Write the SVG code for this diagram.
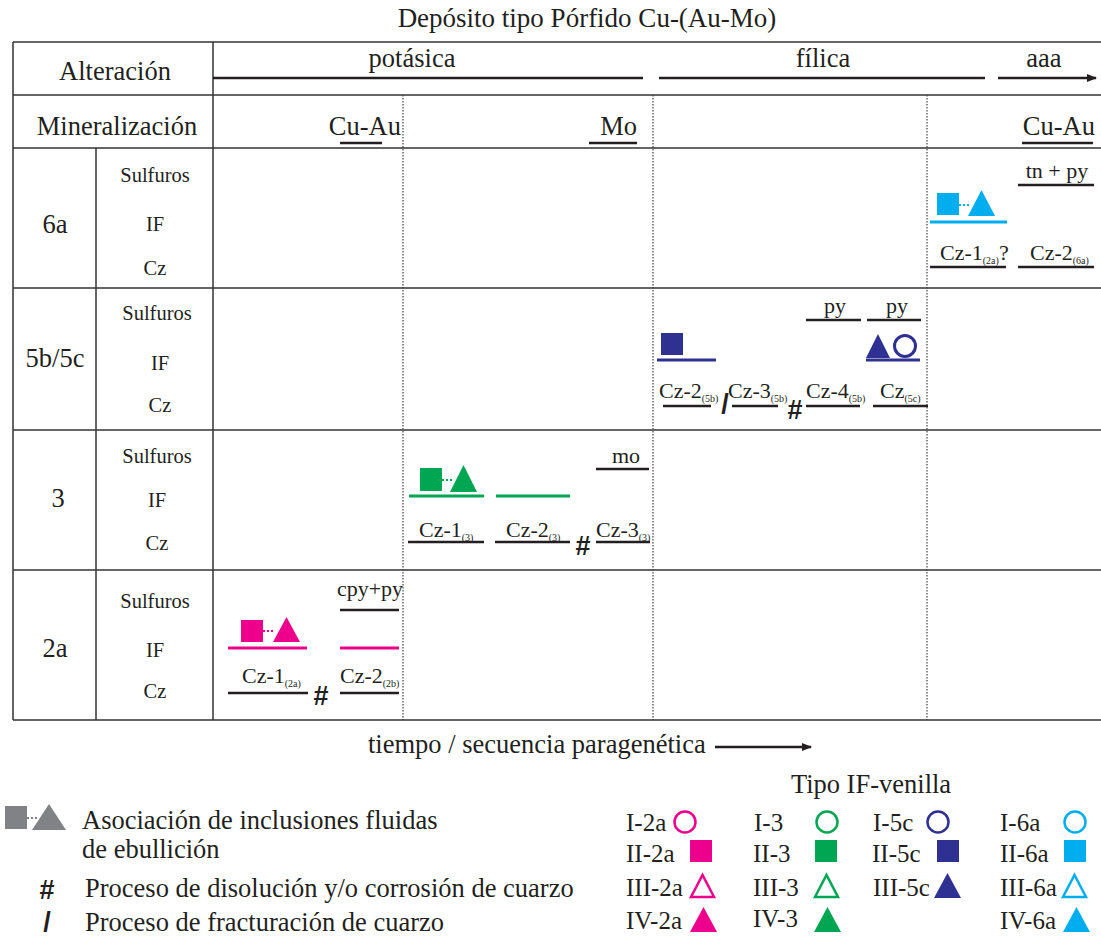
<svg xmlns="http://www.w3.org/2000/svg" width="1101" height="937" viewBox="0 0 1101 937">
<style>
text{font-family:"Liberation Serif","Times New Roman",serif;fill:#231f20}
.t26{font-size:27px}
.t25{font-size:26.5px}
.lg{font-size:25px}
.t20{font-size:20.5px}
.t22{font-size:22px}
.sub{font-size:10px}
.sym{font-family:"Liberation Sans",Arial,sans-serif;font-weight:bold;font-size:27px}
.grid{stroke:#333;stroke-width:1.5;fill:none}
.dot{stroke:#444;stroke-width:1.2;stroke-dasharray:1.5 1.5;fill:none}
.bl{stroke:#231f20;stroke-width:2.5;fill:none}
.mg{fill:#ec008c}.gr{fill:#00a651}.nv{fill:#2e3192}.cy{fill:#00aeef}.gy{fill:#808285}
</style>
<defs>
<marker id="ah" markerWidth="10" markerHeight="8" refX="9" refY="4" orient="auto" markerUnits="userSpaceOnUse">
<path d="M0,0 L10,4 L0,8 Z" fill="#231f20"/>
</marker>
</defs>
<text class="t26" x="587" y="27" text-anchor="middle">Depósito tipo Pórfido Cu-(Au-Mo)</text>
<g id="table">
<path class="grid" d="M13,42H1101M13,95H1101M13,148H1101M13,288H1101M13,430H1101M13,570H1101M13,720H1101M13,42V720M213,42V720M96,148V720"/>
<path class="dot" d="M403,95V720M653,95V720M927,95V720"/>
</g>
<g id="header">
<text class="t25" x="115" y="80" text-anchor="middle">Alteración</text>
<text class="t25" x="117" y="135" text-anchor="middle">Mineralización</text>
<text class="t25" x="412" y="67" text-anchor="middle">potásica</text>
<text class="t25" x="823" y="67" text-anchor="middle">fílica</text>
<text class="t25" x="1044" y="67" text-anchor="middle">aaa</text>
<text class="t25" x="401" y="135" text-anchor="end">Cu-Au</text>
<text class="t25" x="637" y="135" text-anchor="end">Mo</text>
<text class="t25" x="1095" y="135" text-anchor="end">Cu-Au</text>
</g>
<g id="connectors">
<path class="bl" d="M213,78H643M659,78H985"/>
<path class="bl" d="M998,78H1096" stroke-width="2" marker-end="url(#ah)"/>
<path class="bl" d="M340,143H382M589,143H637M1022,143H1093"/>
<path class="bl" d="M715,747H811" stroke-width="2" marker-end="url(#ah)"/>
</g>
<g id="row-6a">
<text class="t25" x="55" y="233" text-anchor="middle">6a</text>
<text class="t20" x="155" y="182" text-anchor="middle">Sulfuros</text>
<text class="t20" x="155" y="231" text-anchor="middle">IF</text>
<text class="t20" x="155" y="275" text-anchor="middle">Cz</text>
<rect class="cy" x="937" y="193" width="22" height="22"/>
<path d="M959,205H970" stroke="#00aeef" stroke-width="2" stroke-dasharray="2 2"/>
<path class="cy" d="M968,216L981.5,190L995,216Z"/>
<path d="M930,222H1007" stroke="#00aeef" stroke-width="3"/>
<text class="t22" x="1057" y="178" text-anchor="middle">tn + py</text>
<path class="bl" d="M1018,185H1094"/>
<text class="t22" x="940" y="260">Cz-1<tspan class="sub" dy="4">(2a)</tspan><tspan dy="-4">?</tspan></text>
<text class="t22" x="1030" y="260">Cz-2<tspan class="sub" dy="4">(6a)</tspan></text>
<path class="bl" d="M930,267H1006M1018,267H1094"/>
</g>
<g id="row-5b5c">
<text class="t25" x="55" y="367" text-anchor="middle">5b/5c</text>
<text class="t20" x="157" y="320" text-anchor="middle">Sulfuros</text>
<text class="t20" x="160" y="370" text-anchor="middle">IF</text>
<text class="t20" x="160" y="412" text-anchor="middle">Cz</text>
<text class="t22" x="835" y="313" text-anchor="middle">py</text>
<text class="t22" x="897" y="313" text-anchor="middle">py</text>
<path class="bl" d="M806,320H861M867,320H921"/>
<rect class="nv" x="661" y="333" width="22" height="22"/>
<path d="M657,360H716M866,360H920" stroke="#2e3192" stroke-width="3"/>
<path class="nv" d="M866,358L878,334L890,358Z"/>
<circle cx="905" cy="346" r="10.5" fill="none" stroke="#2e3192" stroke-width="3"/>
<text class="t22" x="659" y="398">Cz-2<tspan class="sub" dy="4">(5b)</tspan></text>
<text class="t22" x="728" y="398">Cz-3<tspan class="sub" dy="4">(5b)</tspan></text>
<text class="t22" x="806" y="398">Cz-4<tspan class="sub" dy="4">(5b)</tspan></text>
<text class="t22" x="880" y="398">Cz<tspan class="sub" dy="4">(5c)</tspan></text>
<path class="bl" d="M663,406H711M732,406H778M806,406H860M873,406H928"/>
<text class="sym" x="725" y="413" text-anchor="middle" font-size="16">/</text>
<text class="sym" x="795" y="419" text-anchor="middle" font-size="25">#</text>
</g>
<g id="row-3">
<text class="t25" x="58" y="507" text-anchor="middle">3</text>
<text class="t20" x="157" y="463" text-anchor="middle">Sulfuros</text>
<text class="t20" x="157" y="507" text-anchor="middle">IF</text>
<text class="t20" x="157" y="550" text-anchor="middle">Cz</text>
<rect class="gr" x="420" y="468" width="22" height="23"/>
<path d="M442,480H452" stroke="#00a651" stroke-width="2" stroke-dasharray="2 2"/>
<path class="gr" d="M450,492L463.5,465L477,492Z"/>
<path d="M409,496H484M496,496H570" stroke="#00a651" stroke-width="3"/>
<text class="t22" x="626" y="463" text-anchor="middle">mo</text>
<path class="bl" d="M596,469H649"/>
<text class="t22" x="419" y="537">Cz-1<tspan class="sub" dy="4">(3)</tspan></text>
<text class="t22" x="506" y="537">Cz-2<tspan class="sub" dy="4">(3)</tspan></text>
<text class="t22" x="596" y="537">Cz-3<tspan class="sub" dy="4">(3)</tspan></text>
<path class="bl" d="M408,542H484M495,542H570M596,542H650"/>
<text class="sym" x="583" y="555" text-anchor="middle">#</text>
</g>
<g id="row-2a">
<text class="t25" x="55" y="657" text-anchor="middle">2a</text>
<text class="t20" x="155" y="608" text-anchor="middle">Sulfuros</text>
<text class="t20" x="155" y="657" text-anchor="middle">IF</text>
<text class="t20" x="155" y="698" text-anchor="middle">Cz</text>
<rect class="mg" x="241" y="620" width="22" height="22"/>
<path d="M263,631H275" stroke="#ec008c" stroke-width="2" stroke-dasharray="2 2"/>
<path class="mg" d="M273,642L286.5,617L300,642Z"/>
<path d="M228,648H307M340,648H399" stroke="#ec008c" stroke-width="3"/>
<text class="t22" x="370" y="596" text-anchor="middle">cpy+py</text>
<path class="bl" d="M340,610H399"/>
<text class="t22" x="242" y="683">Cz-1<tspan class="sub" dy="4">(2a)</tspan></text>
<text class="t22" x="340" y="683">Cz-2<tspan class="sub" dy="4">(2b)</tspan></text>
<path class="bl" d="M228,693H308M340,693H399"/>
<text class="sym" x="321" y="705" text-anchor="middle">#</text>
</g>
<text class="t25" x="368" y="753">tiempo / secuencia paragenética</text>
<g id="legend-symbols">
<rect class="gy" x="5" y="806" width="22" height="23"/>
<path d="M27,818H38" stroke="#808285" stroke-width="2" stroke-dasharray="2 2"/>
<path class="gy" d="M32,830L49,804L66,830Z"/>
<text class="t25" x="82" y="829">Asociación de inclusiones fluidas</text>
<text class="t25" x="82" y="858">de ebullición</text>
<text class="sym" x="47" y="899" text-anchor="middle">#</text>
<text class="t25" x="85" y="897">Proceso de disolución y/o corrosión de cuarzo</text>
<text class="sym" x="47" y="931" text-anchor="middle" font-size="16">/</text>
<text class="t25" x="85" y="931">Proceso de fracturación de cuarzo</text>
</g>
<g id="legend-tipo">
<text class="t25" x="871" y="793" text-anchor="middle">Tipo IF-venilla</text>
<text class="lg" x="626" y="831">I-2a</text>
<text class="lg" x="754" y="831">I-3</text>
<text class="lg" x="873" y="831">I-5c</text>
<text class="lg" x="1000" y="831">I-6a</text>
<circle cx="685" cy="822" r="10.5" fill="none" stroke="#ec008c" stroke-width="2.5"/>
<circle cx="827" cy="822" r="10.5" fill="none" stroke="#00a651" stroke-width="2.5"/>
<circle cx="938" cy="822" r="10.5" fill="none" stroke="#2e3192" stroke-width="2.5"/>
<circle cx="1075" cy="822" r="10.5" fill="none" stroke="#00aeef" stroke-width="2.5"/>
<text class="lg" x="626" y="862">II-2a</text>
<text class="lg" x="753" y="862">II-3</text>
<text class="lg" x="872" y="862">II-5c</text>
<text class="lg" x="1000" y="862">II-6a</text>
<rect class="mg" x="690" y="840" width="22" height="22"/>
<rect class="gr" x="815" y="840" width="22" height="22"/>
<rect class="nv" x="937" y="840" width="22" height="22"/>
<rect class="cy" x="1064" y="840" width="22" height="22"/>
<text class="lg" x="626" y="896">III-2a</text>
<text class="lg" x="753" y="896">III-3</text>
<text class="lg" x="873" y="896">III-5c</text>
<text class="lg" x="1000" y="896">III-6a</text>
<path d="M691,897L702.5,875L714,897Z" fill="none" stroke="#ec008c" stroke-width="2.5"/>
<path d="M815,897L826.5,875L838,897Z" fill="none" stroke="#00a651" stroke-width="2.5"/>
<path class="nv" d="M934,898L947.5,873L961,898Z"/>
<path d="M1063,897L1074.5,875L1086,897Z" fill="none" stroke="#00aeef" stroke-width="2.5"/>
<text class="lg" x="626" y="929">IV-2a</text>
<text class="lg" x="753" y="927">IV-3</text>
<text class="lg" x="1000" y="929">IV-6a</text>
<path class="mg" d="M690,932L703.5,907L717,932Z"/>
<path class="gr" d="M814,932L827.5,907L841,932Z"/>
<path class="cy" d="M1063,932L1076.5,907L1090,932Z"/>
</g>
</svg>
